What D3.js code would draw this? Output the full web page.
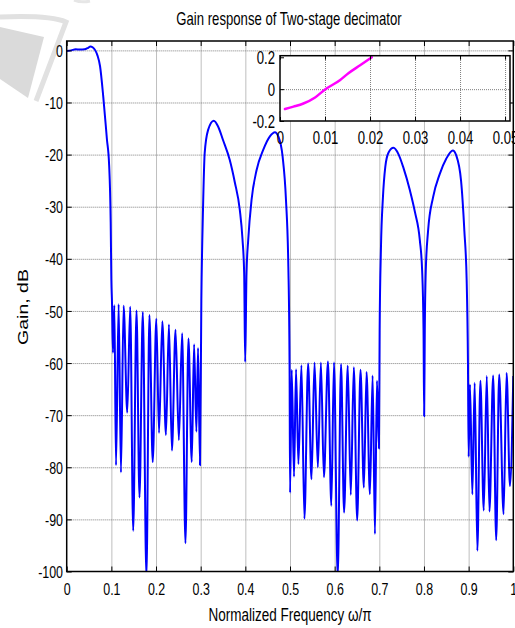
<!DOCTYPE html>
<html>
<head>
<meta charset="utf-8">
<script src="https://cdn.jsdelivr.net/npm/d3@7"></script>
<style>
  html, body { margin: 0; padding: 0; background: #fff; }
  svg { display: block; }
  text { font-family: "Liberation Sans", Arial, Helvetica, sans-serif; fill: #000; }
</style>
</head>
<body>
<svg id="chart" width="515" height="628"></svg>
<script>
// ---------------- data ----------------
const freq = [
  0.000, 0.010, 0.020, 0.030, 0.040, 0.048, 0.053, 0.058, 0.064, 0.069,
  0.0746, 0.082, 0.090, 0.095, 0.0985, 0.1000, 0.1015, 0.1035, 0.1067, 0.1104,
  0.1163, 0.1215, 0.1274, 0.1356, 0.1422, 0.1489, 0.1563, 0.1630, 0.1704, 0.1785,
  0.1852, 0.1926, 0.2007, 0.2067, 0.2141, 0.2222, 0.2289, 0.2356, 0.2437, 0.2511,
  0.2585, 0.2659, 0.2726, 0.2800, 0.2852, 0.2904, 0.2941, 0.2985,
  0.3015, 0.3052, 0.3090, 0.3165, 0.3292, 0.3390, 0.3500, 0.3650, 0.3764, 0.3876,
  0.3936, 0.3974, 0.3996, 0.4026, 0.4064, 0.4139, 0.4251, 0.4400, 0.4550, 0.4663,
  0.4738, 0.4835, 0.4910, 0.4963, 0.4990, 0.5002,
  0.5038, 0.5090, 0.5135, 0.5188, 0.5256, 0.5323, 0.5406, 0.5481, 0.5549, 0.5624,
  0.5692, 0.5759, 0.5850, 0.5925, 0.5985, 0.6068, 0.6143, 0.6211, 0.6293, 0.6361,
  0.6429, 0.6504, 0.6579, 0.6654, 0.6714, 0.6789, 0.6850, 0.6902, 0.6947, 0.6992,
  0.7007, 0.7037, 0.7081, 0.7133, 0.7207, 0.7317, 0.7428, 0.7539, 0.7686, 0.7797,
  0.7908, 0.7959, 0.7990, 0.8004, 0.8018, 0.8040, 0.8092, 0.8203, 0.8350, 0.8498,
  0.8646, 0.8720, 0.8830, 0.8904, 0.8956, 0.8985, 0.9000,
  0.9030, 0.9083, 0.9135, 0.9195, 0.9263, 0.9338, 0.9406, 0.9466, 0.9549, 0.9617,
  0.9684, 0.9782, 0.9850, 0.9925, 1.0000
];
const gainDb = [
  -0.13, 0.0, 0.2, 0.15, 0.2, 0.5, 0.75, 0.6, 0.0, -1.0,
  -3.0, -9.0, -17.0, -22.0, -33.0, -44.0, -48.6, -58.0, -48.9, -79.6,
  -48.7, -81.0, -49.0, -69.5, -49.2, -92.2, -49.9, -85.8, -50.2, -101,
  -50.8, -79.0, -51.5, -73.4, -52.0, -73.8, -52.6, -76.8, -53.6, -74.8,
  -54.3, -94.6, -55.3, -79.0, -56.4, -73.2, -57.1, -79.6,
  -48.0, -30.6, -19.7, -15.3, -13.5, -14.6, -17.2, -21.0, -25.3, -30.6,
  -36.2, -42.8, -59.8, -42.8, -36.4, -28.7, -23.0, -19.1, -16.5, -15.7,
  -16.5, -20.4, -28.7, -41.5, -60.0, -84.9,
  -61.3, -81.8, -61.2, -79.4, -60.4, -89.9, -60.1, -82.3, -59.9, -80.0,
  -59.9, -81.9, -59.7, -87.4, -59.9, -101, -60.2, -88.7, -60.5, -85.3,
  -60.8, -90.2, -61.3, -83.9, -61.7, -85.2, -62.4, -92.8, -63.4, -76.4,
  -53.8, -37.8, -28.2, -22.4, -19.6, -18.7, -19.9, -22.5, -26.9, -31.0,
  -36.5, -42.3, -53.8, -70.2, -53.8, -42.3, -34.6, -28.2, -23.8, -20.8,
  -19.2, -20.1, -25.0, -34.6, -44.2, -60.3, -78.0,
  -64.1, -85.2, -63.8, -96.0, -63.4, -88.3, -62.5, -88.5, -62.4, -94.0,
  -62.2, -89.0, -61.9, -83.6, -62.5
];

const insetFreq = [0.0011, 0.0030, 0.0052, 0.0078, 0.0100, 0.0133, 0.0152, 0.0178, 0.0204];
const insetGain = [-0.125, -0.11, -0.09, -0.052, -0.002, 0.056, 0.10, 0.15, 0.20];

const xTicks = [0, 0.1, 0.2, 0.3, 0.4, 0.5, 0.6, 0.7, 0.8, 0.9, 1];
const xTickLabels = ["0", "0.1", "0.2", "0.3", "0.4", "0.5", "0.6", "0.7", "0.8", "0.9", "1"];
const yTicks = [0, -10, -20, -30, -40, -50, -60, -70, -80, -90, -100];
const yTickLabels = ["0", "-10", "-20", "-30", "-40", "-50", "-60", "-70", "-80", "-90", "-100"];

const insetXTicks = [0, 0.01, 0.02, 0.03, 0.04, 0.05];
const insetXTickLabels = ["0", "0.01", "0.02", "0.03", "0.04", "0.05"];
const insetYTicks = [-0.2, 0, 0.2];
const insetYTickLabels = ["-0.2", "0", "0.2"];

const titleText = "Gain response of Two-stage decimator";
const xLabelText = "Normalized Frequency \u03c9/\u03c0";
const yLabelText = "Gain, dB";

// ---------------- layout ----------------
const SX = 0.73; // horizontal squeeze of all text
const svg = d3.select("#chart");
const M = { left: 66.7, right: 513.3, top: 41, bottom: 571.5 };
const x = d3.scaleLinear().domain([0, 1]).range([M.left, M.right]);
const y = d3.scaleLinear().domain([-100, 1.8]).range([M.bottom, M.top]);

// watermark decoration (light grey)
const wm = svg.append("g").attr("class", "watermark");
wm.append("path").attr("d", "M0,27 L44,37 L28,98 L0,79 Z").attr("fill", "#dadada");
wm.append("path").attr("d", "M0,17 Q50,15 66,22 L36,101").attr("fill", "none")
  .attr("stroke", "#e1e1e1").attr("stroke-width", 5);
wm.append("path").attr("d", "M74,0 Q82,3 90,1").attr("fill", "none")
  .attr("stroke", "#e6e6e6").attr("stroke-width", 3);

svg.append("rect").attr("x", M.left).attr("y", M.top)
  .attr("width", M.right - M.left).attr("height", M.bottom - M.top).attr("fill", "#fff");

// grid
const gridStyle = g => g.call(s => s.select(".domain").remove())
  .call(s => s.selectAll("line").attr("stroke", "#707070").attr("stroke-width", 0.9).attr("stroke-dasharray", "1,1"));
svg.append("g").attr("transform", `translate(0,${M.bottom})`)
  .call(d3.axisBottom(x).tickValues(xTicks.slice(1, -1)).tickSize(-(M.bottom - M.top)).tickFormat(""))
  .call(gridStyle);
svg.append("g").attr("transform", `translate(${M.left},0)`)
  .call(d3.axisLeft(y).tickValues(yTicks.slice(0, -1)).tickSize(-(M.right - M.left)).tickFormat(""))
  .call(gridStyle);

// curve
svg.append("clipPath").attr("id", "clipMain").append("rect")
  .attr("x", M.left).attr("y", M.top).attr("width", M.right - M.left).attr("height", M.bottom - M.top);
const mainData = freq.map((f, i) => [f, gainDb[i]]);
const line = d3.line().x(d => x(d[0])).y(d => y(d[1])).curve(d3.curveMonotoneX);
svg.append("path").datum(mainData).attr("clip-path", "url(#clipMain)")
  .attr("d", line).attr("fill", "none").attr("stroke", "#0000ff")
  .attr("stroke-width", 2).attr("stroke-linejoin", "round");

// axes with inward ticks
function squeeze(sel) {
  sel.selectAll("text").each(function () {
    const t = d3.select(this);
    const xx = +t.attr("x") || 0;
    t.attr("x", xx / SX).attr("transform", `scale(${SX},1)`);
  });
}
const tickFmt = (vals, labels) => d => labels[vals.indexOf(d)];
const axB = svg.append("g").attr("transform", `translate(0,${M.bottom})`)
  .call(d3.axisBottom(x).tickValues(xTicks).tickSize(-5).tickPadding(0).tickFormat(tickFmt(xTicks, xTickLabels)));
axB.selectAll("text").attr("y", 23.5).attr("dy", null).style("font-size", "17px");
squeeze(axB);
const axL = svg.append("g").attr("transform", `translate(${M.left},0)`)
  .call(d3.axisLeft(y).tickValues(yTicks).tickSize(-5).tickPadding(0).tickFormat(tickFmt(yTicks, yTickLabels)));
axL.selectAll("text").attr("x", -3.7).attr("dy", "0.36em").style("font-size", "17px");
squeeze(axL);
svg.append("g").attr("transform", `translate(0,${M.top})`)
  .call(d3.axisTop(x).tickValues(xTicks).tickSize(-5).tickFormat(""));
svg.append("g").attr("transform", `translate(${M.right},0)`)
  .call(d3.axisRight(y).tickValues(yTicks).tickSize(-5).tickFormat(""));
svg.selectAll(".domain").remove();
svg.selectAll(".tick line").filter(function () { return !this.getAttribute("stroke-dasharray"); })
  .attr("stroke", "#000").attr("stroke-width", 1);
svg.append("rect").attr("x", M.left).attr("y", M.top)
  .attr("width", M.right - M.left).attr("height", M.bottom - M.top)
  .attr("fill", "none").attr("stroke", "#000").attr("stroke-width", 1.5);

// labels
function label(txt, px, py, size, rot) {
  const g = svg.append("g").attr("transform", `translate(${px},${py}) scale(${SX},1)` + (rot ? " rotate(-90)" : ""));
  g.append("text").attr("text-anchor", "middle").style("font-size", size + "px").text(txt);
}
label(titleText, 289, 25, 18, false);
label(xLabelText, 290, 621, 18.5, false);
label(yLabelText, 28, 307, 19.5, true);

// ---------------- inset ----------------
const I = { left: 280, right: 510, top: 55.7, bottom: 121 };
const xi = d3.scaleLinear().domain([0, 0.0511]).range([I.left, I.right]);
const yi = d3.scaleLinear().domain([-0.2, 0.21]).range([I.bottom, I.top]);
const inset = svg.append("g").attr("class", "inset");
inset.append("rect").attr("x", I.left).attr("y", I.top)
  .attr("width", I.right - I.left).attr("height", I.bottom - I.top).attr("fill", "#fff");
inset.append("g").attr("transform", `translate(0,${I.bottom})`)
  .call(d3.axisBottom(xi).tickValues(insetXTicks.slice(1)).tickSize(-(I.bottom - I.top)).tickFormat(""))
  .call(gridStyle);
inset.append("g").attr("transform", `translate(${I.left},0)`)
  .call(d3.axisLeft(yi).tickValues([0]).tickSize(-(I.right - I.left)).tickFormat(""))
  .call(gridStyle);
const insetData = insetFreq.map((f, i) => [f, insetGain[i]]);
inset.append("path").datum(insetData)
  .attr("d", d3.line().x(d => xi(d[0])).y(d => yi(d[1])).curve(d3.curveMonotoneX))
  .attr("fill", "none").attr("stroke", "#ff00ff").attr("stroke-width", 2.5).attr("stroke-linecap", "round");
const iB = inset.append("g").attr("transform", `translate(0,${I.bottom})`)
  .call(d3.axisBottom(xi).tickValues(insetXTicks).tickSize(-4).tickPadding(0).tickFormat(tickFmt(insetXTicks, insetXTickLabels)));
iB.selectAll("text").attr("y", 23).attr("dy", null).style("font-size", "18px");
squeeze(iB);
const iL = inset.append("g").attr("transform", `translate(${I.left},0)`)
  .call(d3.axisLeft(yi).tickValues(insetYTicks).tickSize(-4).tickPadding(0).tickFormat(tickFmt(insetYTicks, insetYTickLabels)));
iL.selectAll("text").attr("x", -5).attr("dy", "0.36em").style("font-size", "18px");
squeeze(iL);
inset.append("g").attr("transform", `translate(0,${I.top})`)
  .call(d3.axisTop(xi).tickValues(insetXTicks).tickSize(-4).tickFormat(""));
inset.selectAll(".domain").remove();
inset.selectAll(".tick line").filter(function () { return !this.getAttribute("stroke-dasharray"); })
  .attr("stroke", "#000").attr("stroke-width", 1);
inset.append("rect").attr("x", I.left).attr("y", I.top)
  .attr("width", I.right - I.left).attr("height", I.bottom - I.top)
  .attr("fill", "none").attr("stroke", "#000").attr("stroke-width", 1.5);
</script>
</body>
</html>
